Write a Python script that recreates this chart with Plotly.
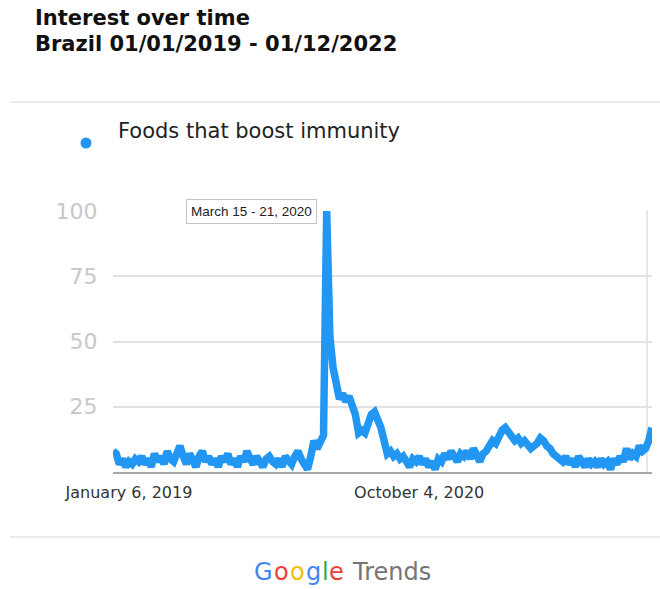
import pandas as pd
import plotly.graph_objects as go

# ---------------- data ----------------
start_week = "2018-12-02"
interest = [
    8, 7, 3, 5, 2,
    4, 3, 5, 4, 6, 3, 5, 2, 7, 4, 6, 3, 8, 5, 4, 7,
    10,
    6, 3, 7, 5, 2, 6, 8, 4, 6, 3, 5, 2, 6, 4, 7, 3, 5, 2, 6,
    4, 8, 5, 3, 6, 4, 2, 5, 6, 4, 3, 5, 2, 6, 4, 3, 6,
    8, 5, 3, 1, 6, 12, 9, 11, 14,
    100,
    52, 40, 33, 28, 30, 27, 29, 26, 22, 15, 16, 15, 18, 22, 23, 20, 17, 12,
    7, 8, 6, 7, 5, 6, 4, 2, 5, 4, 6, 3, 5, 2, 4, 1, 5, 4, 7, 5, 8, 6, 4, 7, 6, 8, 5, 9, 6, 4, 7, 8,
    10, 12, 11, 14, 16, 17, 15, 14, 12, 13, 11, 12, 10, 9, 10, 11, 13, 12, 10, 9,
    7, 6, 5, 4, 6, 3, 5, 2, 6, 4, 2, 5, 3, 4, 2, 5, 3, 4, 1, 5, 3, 6, 4, 9, 5, 7, 6, 10, 8, 9, 12, 17,
]
weeks = pd.date_range(start_week, periods=len(interest), freq="7D")
series_name = "Foods that boost immunity"
y_ticks = [25, 50, 75, 100]
x_tick_dates = ["2019-01-06", "2020-10-04"]
x_tick_labels = ["January 6, 2019", "October 4, 2020"]
peak_label = "March 15 - 21, 2020"
logo_letters = ["G", "o", "o", "g", "l", "e"]
logo_colors = ["#4285F4", "#EA4335", "#FBBC05", "#4285F4", "#34A853", "#EA4335"]
logo_word = "Trends"

# ---------------- layout geometry ----------------
W, H = 660, 589
L, R, T, B = 113, 652, 211, 472


def px(x):
    return (x - L) / (R - L)


def py(y):
    return (B - y) / (B - T)


BLUE = "#2196f3"

fig = go.Figure()
fig.add_trace(go.Scatter(
    x=weeks, y=interest, mode="lines", name=series_name,
    line=dict(color=BLUE, width=7.5), showlegend=False, hoverinfo="x+y",
))

fig.update_layout(
    width=W, height=H,
    margin=dict(l=L, r=W - R, t=T, b=H - B),
    paper_bgcolor="white", plot_bgcolor="white",
    xaxis=dict(
        range=[weeks[0], weeks[-1]],
        tickvals=pd.to_datetime(x_tick_dates), ticktext=x_tick_labels,
        showgrid=False, zeroline=False,
        showline=True, linecolor="#a8a8a8", linewidth=2,
        ticks="outside", ticklen=5, tickcolor="rgba(0,0,0,0)",
        tickfont=dict(family="DejaVu Sans", size=16, color="#333333"),
    ),
    yaxis=dict(
        range=[0, 100], tickvals=y_ticks,
        showgrid=True, gridcolor="#e2e2e2", gridwidth=1.5,
        zeroline=False, showline=False,
        ticks="outside", ticklen=10, tickcolor="rgba(0,0,0,0)",
        tickfont=dict(family="DejaVu Sans", size=22, color="#c8c8c8"),
    ),
)

shapes = [
    # separators
    dict(type="line", xref="paper", yref="paper", x0=px(10), x1=px(660), y0=py(102), y1=py(102),
         line=dict(color="#e6e6e6", width=1.5)),
    dict(type="line", xref="paper", yref="paper", x0=px(10), x1=px(660), y0=py(537), y1=py(537),
         line=dict(color="#e6e6e6", width=1.5)),
    # right-edge vertical line
    dict(type="line", xref="paper", yref="paper", x0=px(647), x1=px(647), y0=0, y1=1,
         line=dict(color="#dddddd", width=1.5), layer="below"),
    # legend dot
    dict(type="circle", xref="paper", yref="paper", x0=px(80.5), x1=px(91.5), y0=py(137.5), y1=py(148.5),
         fillcolor=BLUE, line=dict(width=0)),
]
fig.update_layout(shapes=shapes)

annotations = [
    dict(text="<b>Interest over time</b>", xref="paper", yref="paper", x=px(33), y=py(18),
         xanchor="left", yanchor="middle", showarrow=False,
         font=dict(family="DejaVu Sans", size=21, color="#111111")),
    dict(text="<b>Brazil 01/01/2019 - 01/12/2022</b>", xref="paper", yref="paper", x=px(33), y=py(44),
         xanchor="left", yanchor="middle", showarrow=False,
         font=dict(family="DejaVu Sans", size=21, color="#111111")),
    dict(text=series_name, xref="paper", yref="paper", x=px(116), y=py(131),
         xanchor="left", yanchor="middle", showarrow=False,
         font=dict(family="DejaVu Sans", size=21, color="#222222")),
    dict(text=peak_label, xref="paper", yref="paper", x=px(251), y=py(211),
         xanchor="center", yanchor="middle", showarrow=False,
         bgcolor="white", bordercolor="#c4c4c4", borderwidth=1, borderpad=4,
         font=dict(family="Liberation Sans, Arial", size=13.5, color="#222222")),
]

# Google Trends logo: one annotation per coloured letter
letter_em = {"G": 0.775, "o": 0.612, "g": 0.635, "l": 0.278, "e": 0.615}
logo_size = 24
logo_y = 572
xpos = 252.0
for ch, col in zip(logo_letters, logo_colors):
    annotations.append(dict(
        text=ch, xref="paper", yref="paper", x=px(xpos), y=py(logo_y),
        xanchor="left", yanchor="middle", showarrow=False,
        font=dict(family="DejaVu Sans", size=logo_size, color=col)))
    xpos += letter_em[ch] * logo_size * 1.08
annotations.append(dict(
    text=logo_word, xref="paper", yref="paper", x=px(xpos + 7), y=py(logo_y),
    xanchor="left", yanchor="middle", showarrow=False,
    font=dict(family="DejaVu Sans", size=logo_size, color="#757575")))
fig.update_layout(annotations=annotations)

fig.write_html("out.html")
